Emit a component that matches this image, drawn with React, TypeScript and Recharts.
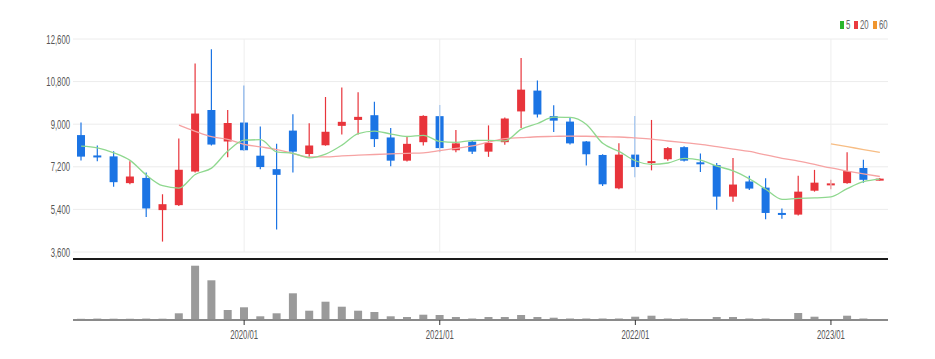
import React from 'react';
import { Bar, BarChart, CartesianGrid, ComposedChart, Line, ReferenceLine, XAxis, YAxis } from 'recharts';

const months = [
  '2019/03', '2019/04', '2019/05', '2019/06', '2019/07', '2019/08', '2019/09', '2019/10', '2019/11', '2019/12',
  '2020/01', '2020/02', '2020/03', '2020/04', '2020/05', '2020/06', '2020/07', '2020/08', '2020/09', '2020/10', '2020/11', '2020/12',
  '2021/01', '2021/02', '2021/03', '2021/04', '2021/05', '2021/06', '2021/07', '2021/08', '2021/09', '2021/10', '2021/11', '2021/12',
  '2022/01', '2022/02', '2022/03', '2022/04', '2022/05', '2022/06', '2022/07', '2022/08', '2022/09', '2022/10', '2022/11', '2022/12',
  '2023/01', '2023/02', '2023/03', '2023/04',
];

const opens = [
  8540, 7680, 7640, 6510, 6730, 5370, 5580, 7000, 9600, 8270,
  9070, 7670, 7100, 8730, 7740, 8110, 8930, 9180, 9380, 8440, 7460, 8240,
  9340, 7900, 8260, 7840, 8240, 9540, 10420, 9340, 9110, 8270, 7700, 6290,
  7715, 7380, 7520, 8030, 7390, 7270, 5940, 6580, 6320, 5250, 5180, 6190,
  6450, 6510, 7150, 6650,
];
const highs = [
  9070, 8100, 7860, 7430, 6960, 6040, 8400, 11560, 12170, 9600,
  10630, 8900, 8170, 9420, 9040, 10150, 10550, 10350, 9950, 8840, 8460, 9380,
  9810, 8760, 8330, 8950, 9280, 11800, 10850, 9800, 9280, 8290, 7730, 8190,
  9350, 9180, 8040, 8070, 7760, 7360, 7570, 6820, 6720, 5440, 6820, 7070,
  6650, 7820, 7500, 6730,
];
const lows = [
  7470, 7430, 6360, 6460, 5080, 4040, 5540, 6960, 8100, 7600,
  7870, 7100, 4550, 6960, 7570, 8090, 8560, 8570, 8040, 7220, 7420, 8100,
  7820, 7820, 7740, 7620, 8130, 8840, 9280, 8670, 8140, 7250, 6390, 6250,
  6760, 7050, 7460, 7420, 6980, 5390, 5720, 6220, 4980, 5010, 5140, 6150,
  6250, 6480, 6530, 6620,
];
const closes = [
  7630, 7600, 6550, 6790, 5440, 5620, 7075, 9450, 8140, 9050,
  7900, 7190, 6860, 7840, 8100, 8680, 9100, 9310, 8370, 7460, 8170, 9350,
  7990, 8190, 7840, 8210, 9240, 10460, 9410, 9150, 8190, 7730, 6460, 7715,
  7190, 7440, 7990, 7460, 7320, 5940, 6450, 6280, 5250, 5210, 6150, 6530,
  6500, 7020, 6650, 6700,
];
const ma5 = [
  8070, 8000, 7790, 7470, 6850, 6400, 6300, 6875, 7145, 7865,
  8325, 8345, 7830, 7770, 7580, 7735, 8115, 8605, 8710, 8585, 8480, 8530,
  8270, 8230, 8310, 8315, 8295, 8790, 9030, 9295, 9290, 8990, 8190, 7850,
  7455, 7305, 7360, 7560, 7480, 7230, 7030, 6690, 6250, 5825, 5870, 5885,
  5930, 6280, 6570, 6680,
];
const ma20 = [
  null, null, null, null, null, null, 8960, 8700, 8470, 8360,
  8150, 8040, 7930, 7760, 7620, 7620, 7660, 7690, 7720, 7745, 7770, 7790,
  7880, 7980, 8080, 8240, 8390, 8430, 8470, 8485, 8500, 8490, 8470, 8460,
  8420, 8370, 8290, 8220, 8150, 8050, 7950, 7850, 7700, 7560, 7440, 7300,
  7150, 7020, 6900, 6790,
];
const ma60 = [
  null, null, null, null, null, null, null, null, null, null,
  null, null, null, null, null, null, null, null, null, null, null, null,
  null, null, null, null, null, null, null, null, null, null, null, null,
  null, null, null, null, null, null, null, null, null, null, null, null,
  8170, 8050, 7930, 7810,
];
const volumes = [
  12, 14, 13, 12, 14, 13, 67, 543, 397, 100,
  127, 37, 67, 267, 93, 183, 133, 93, 80, 37, 30, 53,
  50, 30, 15, 30, 30, 50, 30, 23, 15, 15, 15, 15,
  33, 43, 15, 15, 5, 30, 30, 15, 15, 5, 70, 33,
  5, 43, 15, 5,
];

const priceTicks = [3600, 5400, 7200, 9000, 10800, 12600];
const yearMarks = ['2020/01', '2021/01', '2022/01', '2023/01'];
const legendItems = [
  { label: '5', color: '#2bb52b' },
  { label: '20', color: '#ea3a40' },
  { label: '60', color: '#f0952e' },
];

const RED = '#e8343b';
const BLUE = '#1b74e4';
const FONT = '"Liberation Sans", Arial, sans-serif';

const data = months.map((month, i) => ({
  month,
  open: opens[i],
  high: highs[i],
  low: lows[i],
  close: closes[i],
  range: [lows[i], highs[i]],
  ma5: ma5[i],
  ma20: ma20[i],
  ma60: ma60[i],
  volume: volumes[i],
}));

function Candle(props: any) {
  const { x, y, width, height, payload } = props;
  if (!payload) return null;
  const { open, close, high, low } = payload;
  const yHigh = Math.min(y, y + height);
  const yLow = Math.max(y, y + height);
  const ratio = (yLow - yHigh) / (high - low);
  const yOf = (v: number) => yHigh + (high - v) * ratio;
  const color = close >= open ? RED : BLUE;
  const cx = x + width / 2;
  const top = yOf(Math.max(open, close));
  const bottom = yOf(Math.min(open, close));
  return (
    <g>
      <line x1={cx} x2={cx} y1={yHigh} y2={yLow} stroke={color} strokeWidth={1.2} />
      <rect x={x} y={top} width={width} height={Math.max(bottom - top, 2)} fill={color} />
    </g>
  );
}

function PriceTick(props: any) {
  const { x, y, payload } = props;
  return (
    <g transform={`translate(${x},${y})`}>
      <text transform="scale(0.62,1)" textAnchor="end" dy="0.36em" fontSize={12.5} fill="#555" fontFamily={FONT}>
        {Number(payload.value).toLocaleString('en-US')}
      </text>
    </g>
  );
}

function MonthTick(props: any) {
  const { x, y, payload } = props;
  if (!yearMarks.includes(payload.value)) return <g />;
  return (
    <g transform={`translate(${x},${y})`}>
      <line x1={0} x2={0} y1={0} y2={5} stroke="#333" strokeWidth={1} />
      <text transform="scale(0.62,1)" textAnchor="middle" y={19} fontSize={12.5} fill="#555" fontFamily={FONT}>
        {payload.value}
      </text>
    </g>
  );
}

export default function App() {
  return (
    <div style={{ position: 'absolute', left: 0, top: 0, width: 935, height: 359, background: '#fff' }}>
      <div style={{ position: 'absolute', left: 0, top: 0 }}>
        <ComposedChart width={935} height={260} data={data} margin={{ top: 39, right: 47, bottom: 8, left: 0 }}>
          <CartesianGrid vertical={false} stroke="#ececec" />
          <XAxis dataKey="month" hide />
          <YAxis
            domain={[3600, 12600]}
            ticks={priceTicks}
            interval={0}
            width={73}
            axisLine={false}
            tickLine={false}
            tickSize={0}
            tickMargin={3}
            tick={<PriceTick />}
          />
          {yearMarks.map((m) => (
            <ReferenceLine key={m} x={m} stroke="#eeeeee" />
          ))}
          <Line type="monotone" dataKey="ma20" stroke="#f6a3a3" strokeWidth={1.3} dot={false} isAnimationActive={false} />
          <Line type="monotone" dataKey="ma5" stroke="#8fd88f" strokeWidth={1.3} dot={false} isAnimationActive={false} />
          <Line type="monotone" dataKey="ma60" stroke="#f7bd84" strokeWidth={1.3} dot={false} isAnimationActive={false} />
          <Bar dataKey="range" barSize={8} shape={<Candle />} isAnimationActive={false} />
        </ComposedChart>
      </div>
      <div style={{ position: 'absolute', left: 0, top: 250 }}>
        <BarChart width={935} height={109} data={data} margin={{ top: 9, right: 47, bottom: 9, left: 73 }}>
          <XAxis
            dataKey="month"
            interval={0}
            height={30}
            tickLine={false}
            tickSize={0}
            tickMargin={0}
            axisLine={{ stroke: '#8a8a8a', strokeWidth: 2 }}
            tick={<MonthTick />}
          />
          <YAxis hide domain={[0, 610]} />
          <ReferenceLine y={610} stroke="#1a1a1a" strokeWidth={2} />
          <Bar dataKey="volume" barSize={8} fill="#9a9a9a" isAnimationActive={false} />
        </BarChart>
      </div>
      <div style={{ position: 'absolute', left: 840, top: 18, display: 'flex', alignItems: 'center', fontFamily: FONT, fontSize: 12.5, color: '#666' }}>
        {legendItems.map((item) => (
          <div key={item.label} style={{ display: 'flex', alignItems: 'center', marginRight: 4 }}>
            <span style={{ display: 'inline-block', width: 4, height: 8, background: item.color, marginRight: 2 }} />
            <span style={{ display: 'inline-block', transform: 'scaleX(0.62)', transformOrigin: 'left center', width: item.label.length * 4.3 }}>
              {item.label}
            </span>
          </div>
        ))}
      </div>
    </div>
  );
}
